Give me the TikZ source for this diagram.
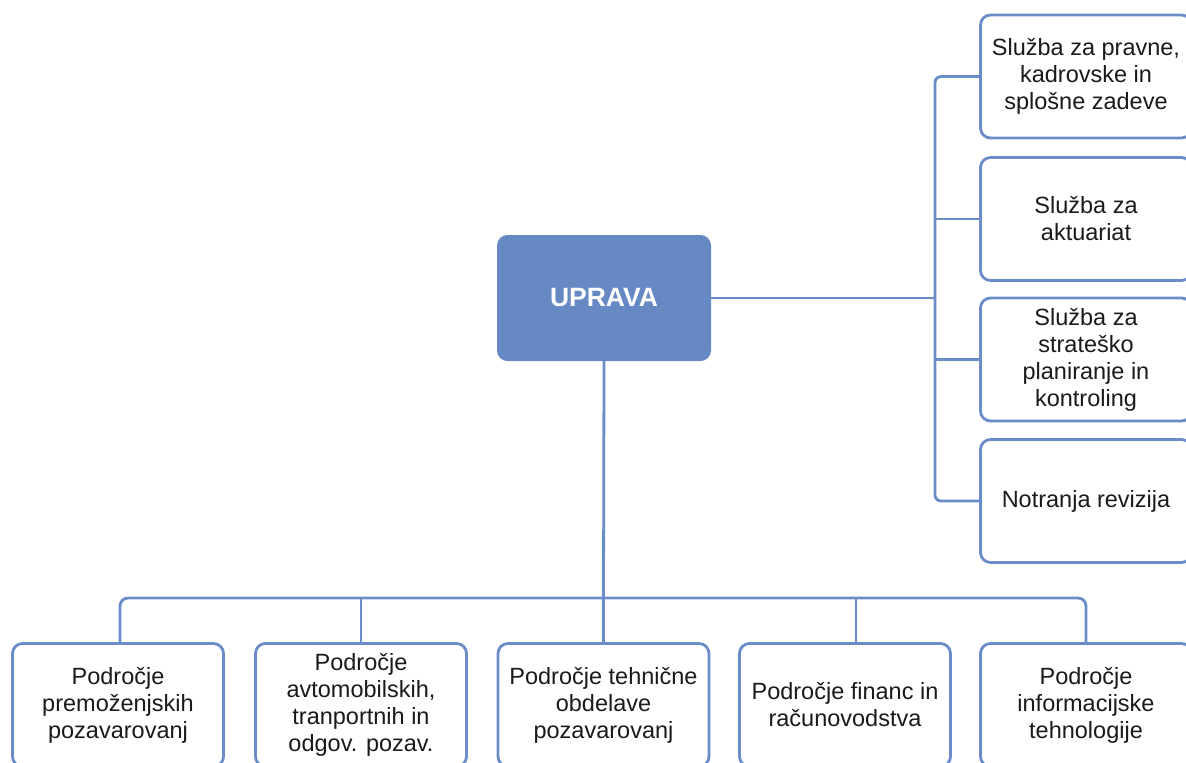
\documentclass[tikz,border=0pt]{standalone}
\usepackage{fontspec}
\setmainfont{Liberation Sans}
\definecolor{lineblue}{HTML}{6A8CC8}
\definecolor{fillblue}{HTML}{6689C4}
\definecolor{txt}{HTML}{1A1A1A}
\begin{document}
\begin{tikzpicture}[x=1pt,y=-1pt,
  unit/.style={draw=lineblue, line width=2.8pt, rounded corners=10pt, fill=white,
    minimum width=211pt, minimum height=123pt, align=center, text=txt,
    font=\fontsize{23.5}{27}\selectfont, inner sep=0pt},
  boss/.style={draw=fillblue, line width=1pt, rounded corners=10pt, fill=fillblue,
    minimum width=213pt, minimum height=125pt, text=white,
    font=\fontsize{26.5}{30}\selectfont\bfseries},
  conn/.style={draw=lineblue, line width=2.8pt}]
\useasboundingbox (0,0) rectangle (1186,763);
% coordinates of the buses
\coordinate (rt) at (935,76.5);
\coordinate (rb) at (935,501);
\coordinate (rm) at (935,298);
\coordinate (r2j) at (935,219);
\coordinate (r3j) at (935,359.5);
\coordinate (bl) at (120,598);
\coordinate (br) at (1086,598);
\coordinate (bm) at (603.5,598);
\coordinate (b2j) at (361,598);
\coordinate (b4j) at (856,598);
\coordinate (b4t) at (856,643.5);
% top
\node[boss] (U) at (604,298) {UPRAVA};
% right column
\node[unit] (r1) at (1086,76.5) {Služba za pravne,\\kadrovske in\\splošne zadeve};
\node[unit] (r2) at (1086,219) {Služba za\\aktuariat};
\node[unit] (r3) at (1086,359.5) {Služba za\\strateško\\planiranje in\\kontroling};
\node[unit] (r4) at (1086,501) {Notranja revizija};
% bottom row
\node[unit] (b1) at (118,705) {Področje\\premoženjskih\\pozavarovanj};
\node[unit] (b2) at (361,705) {Področje\\avtomobilskih,\\tranportnih in\\odgov. pozav.};
\node[unit] (b3) at (603.5,705) {Področje tehnične\\obdelave\\pozavarovanj};
\node[unit] (b4) at (845,705) {Področje financ in\\računovodstva};
\node[unit] (b5) at (1086,705) {Področje\\informacijske\\tehnologije};
% right connectors
\draw[conn, rounded corners=6pt] (r1.west) -- (rt) -- (rb) -- (r4.west);
\draw[conn] (r2j) -- (r2.west);
\draw[conn] (r3j) -- (r3.west);
\draw[conn] (U.east) -- (rm);
% bottom connectors
\draw[conn, rounded corners=8pt] (b1.north -| bl) -- (bl) -- (br) -- (b5.north -| br);
\draw[conn] (U.south) -- (bm) -- (b3.north);
\draw[conn] (b2j) -- (b2.north);
\draw[conn] (b4j) -- (b4t);
\end{tikzpicture}
\end{document}
